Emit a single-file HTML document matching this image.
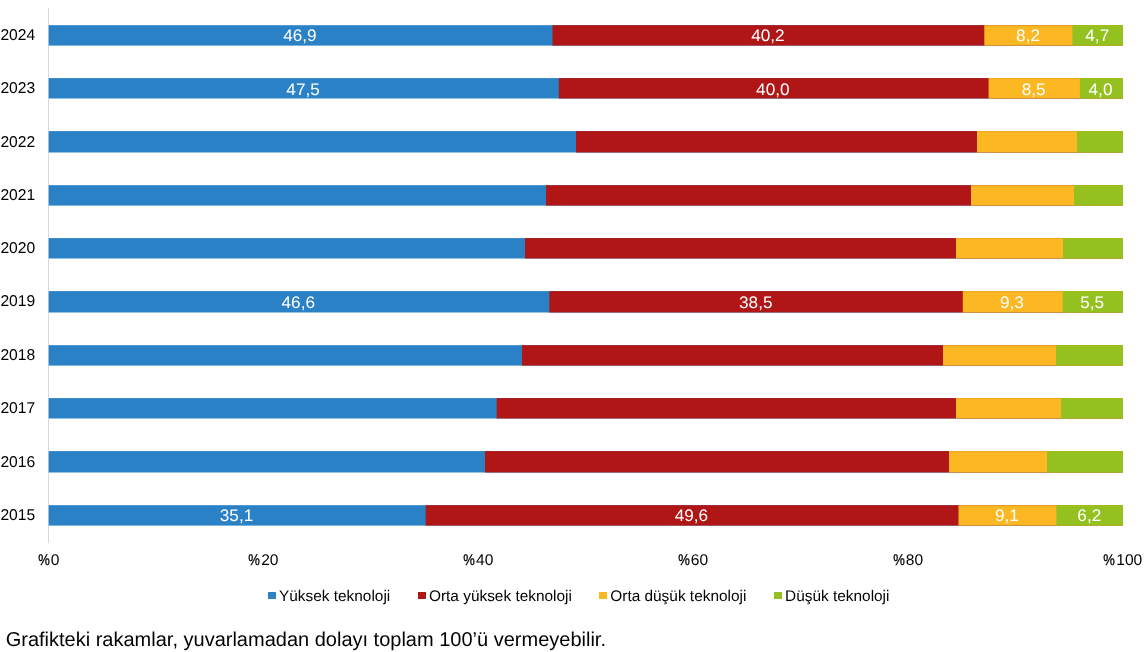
<!DOCTYPE html>
<html lang="tr"><head><meta charset="utf-8"><title>Grafik</title>
<style>
html,body{margin:0;padding:0;background:#fff;}
body{width:1147px;height:652px;position:relative;overflow:hidden;font-family:"Liberation Sans",Arial,sans-serif;color:#000;text-rendering:geometricPrecision;}
.ax{position:absolute;left:48px;top:8px;width:1px;height:534.5px;background:#d9d9d9;}
.bars{position:absolute;left:0;top:0;}
.cat{position:absolute;left:0.4px;font-size:15.65px;line-height:18px;height:18px;white-space:nowrap;}
.dl{position:absolute;color:#fff;font-size:16.7px;line-height:20px;height:20px;text-align:center;white-space:nowrap;transform:scaleX(1.03);transform-origin:50% 50%;margin-left:-0.6px;}
.xl{position:absolute;top:551.7px;font-size:15.55px;line-height:18px;white-space:nowrap;margin-left:-0.6px;}
.pc{display:inline-block;transform:scaleX(.84);transform-origin:62% 50%;-webkit-text-stroke:0.3px #000;}
.lg{position:absolute;top:587.5px;font-size:15.4px;line-height:18px;white-space:nowrap;}
.mk{position:absolute;top:592px;width:8px;height:7px;}
.note{position:absolute;left:5.7px;top:629.2px;font-size:20px;line-height:22px;white-space:nowrap;}
</style></head><body>
<div class="ax"></div>

<svg class="bars" width="1147" height="652" viewBox="0 0 1147 652"><rect x="48.7" y="25.2" width="1074.2" height="20.4" fill="#2a81c5"/><rect x="552.5" y="25.2" width="570.4" height="20.4" fill="#b01616"/><rect x="984.3" y="25.2" width="138.6" height="20.4" fill="#fbb823"/><rect x="1072.4" y="25.2" width="50.5" height="20.4" fill="#94c11f"/><rect x="48.7" y="78.1" width="1074.2" height="20.4" fill="#2a81c5"/><rect x="558.9" y="78.1" width="564.0" height="20.4" fill="#b01616"/><rect x="988.6" y="78.1" width="134.3" height="20.4" fill="#fbb823"/><rect x="1079.9" y="78.1" width="43.0" height="20.4" fill="#94c11f"/><rect x="48.7" y="131.1" width="1074.2" height="21.4" fill="#2a81c5"/><rect x="576.0" y="131.1" width="546.9" height="21.4" fill="#b01616"/><rect x="977.0" y="131.1" width="145.9" height="21.4" fill="#fbb823"/><rect x="1077.0" y="131.1" width="45.9" height="21.4" fill="#94c11f"/><rect x="48.7" y="185.2" width="1074.2" height="20.4" fill="#2a81c5"/><rect x="546.0" y="185.2" width="576.9" height="20.4" fill="#b01616"/><rect x="971.0" y="185.2" width="151.9" height="20.4" fill="#fbb823"/><rect x="1074.0" y="185.2" width="48.9" height="20.4" fill="#94c11f"/><rect x="48.7" y="238.1" width="1074.2" height="20.4" fill="#2a81c5"/><rect x="525.0" y="238.1" width="597.9" height="20.4" fill="#b01616"/><rect x="956.0" y="238.1" width="166.9" height="20.4" fill="#fbb823"/><rect x="1063.0" y="238.1" width="59.9" height="20.4" fill="#94c11f"/><rect x="48.7" y="291.1" width="1074.2" height="21.4" fill="#2a81c5"/><rect x="549.3" y="291.1" width="573.6" height="21.4" fill="#b01616"/><rect x="962.8" y="291.1" width="160.1" height="21.4" fill="#fbb823"/><rect x="1062.7" y="291.1" width="60.2" height="21.4" fill="#94c11f"/><rect x="48.7" y="345.2" width="1074.2" height="20.4" fill="#2a81c5"/><rect x="522.0" y="345.2" width="600.9" height="20.4" fill="#b01616"/><rect x="943.0" y="345.2" width="179.9" height="20.4" fill="#fbb823"/><rect x="1056.0" y="345.2" width="66.9" height="20.4" fill="#94c11f"/><rect x="48.7" y="398.1" width="1074.2" height="20.4" fill="#2a81c5"/><rect x="496.7" y="398.1" width="626.2" height="20.4" fill="#b01616"/><rect x="956.0" y="398.1" width="166.9" height="20.4" fill="#fbb823"/><rect x="1061.0" y="398.1" width="61.9" height="20.4" fill="#94c11f"/><rect x="48.7" y="451.1" width="1074.2" height="21.4" fill="#2a81c5"/><rect x="485.0" y="451.1" width="637.9" height="21.4" fill="#b01616"/><rect x="949.0" y="451.1" width="173.9" height="21.4" fill="#fbb823"/><rect x="1047.0" y="451.1" width="75.9" height="21.4" fill="#94c11f"/><rect x="48.7" y="505.2" width="1074.2" height="20.4" fill="#2a81c5"/><rect x="425.7" y="505.2" width="697.2" height="20.4" fill="#b01616"/><rect x="958.5" y="505.2" width="164.4" height="20.4" fill="#fbb823"/><rect x="1056.3" y="505.2" width="66.6" height="20.4" fill="#94c11f"/></svg>
<div class="cat" style="top:27.2px">2024</div>
<div class="dl" style="left:48.7px;top:26.1px;width:503.8px">46,9</div>
<div class="dl" style="left:552.5px;top:26.1px;width:431.8px">40,2</div>
<div class="dl" style="left:984.3px;top:26.1px;width:88.1px">8,2</div>
<div class="dl" style="left:1072.4px;top:26.1px;width:50.5px">4,7</div>
<div class="cat" style="top:79.6px">2023</div>
<div class="dl" style="left:48.7px;top:79.5px;width:510.2px">47,5</div>
<div class="dl" style="left:558.9px;top:79.5px;width:429.7px">40,0</div>
<div class="dl" style="left:988.6px;top:79.5px;width:91.3px">8,5</div>
<div class="dl" style="left:1079.9px;top:79.5px;width:43.0px">4,0</div>
<div class="cat" style="top:133.9px">2022</div>
<div class="cat" style="top:186.7px">2021</div>
<div class="cat" style="top:240.3px">2020</div>
<div class="cat" style="top:293.2px">2019</div>
<div class="dl" style="left:48.7px;top:292.8px;width:500.6px">46,6</div>
<div class="dl" style="left:549.3px;top:292.8px;width:413.6px">38,5</div>
<div class="dl" style="left:962.8px;top:292.8px;width:99.9px">9,3</div>
<div class="dl" style="left:1062.7px;top:292.8px;width:60.2px">5,5</div>
<div class="cat" style="top:347.2px">2018</div>
<div class="cat" style="top:399.8px">2017</div>
<div class="cat" style="top:453.9px">2016</div>
<div class="cat" style="top:506.9px">2015</div>
<div class="dl" style="left:48.7px;top:506.1px;width:377.0px">35,1</div>
<div class="dl" style="left:425.7px;top:506.1px;width:532.8px">49,6</div>
<div class="dl" style="left:958.5px;top:506.1px;width:97.8px">9,1</div>
<div class="dl" style="left:1056.3px;top:506.1px;width:66.6px">6,2</div>
<div class="xl" style="left:-1.3px;width:100px;text-align:center"><span class="pc">%</span>0</div>
<div class="xl" style="left:213.5px;width:100px;text-align:center"><span class="pc">%</span>20</div>
<div class="xl" style="left:428.4px;width:100px;text-align:center"><span class="pc">%</span>40</div>
<div class="xl" style="left:643.2px;width:100px;text-align:center"><span class="pc">%</span>60</div>
<div class="xl" style="left:858.1px;width:100px;text-align:center"><span class="pc">%</span>80</div>
<div class="xl" style="left:1072.9px;width:100px;text-align:center"><span class="pc">%</span>100</div>
<div class="mk" style="left:268px;background:#2a81c5"></div><div class="lg" style="left:279px">Yüksek teknoloji</div>
<div class="mk" style="left:418px;background:#b01616"></div><div class="lg" style="left:429px">Orta yüksek teknoloji</div>
<div class="mk" style="left:599.3px;background:#fbb823"></div><div class="lg" style="left:610.3px">Orta düşük teknoloji</div>
<div class="mk" style="left:774.1px;background:#94c11f"></div><div class="lg" style="left:785.1px">Düşük teknoloji</div>
<div class="note">Grafikteki rakamlar, yuvarlamadan dolayı toplam 100’ü vermeyebilir.</div>
</body></html>
